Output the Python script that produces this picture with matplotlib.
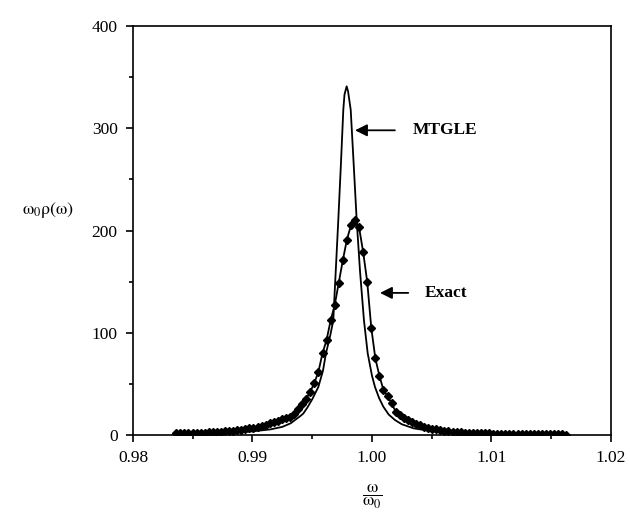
import matplotlib
matplotlib.use("Agg")
import matplotlib.pyplot as plt
from matplotlib.ticker import MultipleLocator

plt.rcParams['font.family'] = ['Liberation Serif', 'DejaVu Serif']
plt.rcParams['mathtext.fontset'] = 'stix'

# exact spectral density, sampled points
exact_w = [0.98362, 0.98396, 0.98430, 0.98464, 0.98498, 0.98532, 0.98566, 0.98600,
           0.98634, 0.98668, 0.98702, 0.98736, 0.98770, 0.98804, 0.98838, 0.98872,
           0.98906, 0.98940, 0.98974, 0.99008, 0.99042, 0.99076, 0.99110, 0.99144,
           0.99178, 0.99212, 0.99246, 0.99280, 0.99314, 0.99348, 0.99382, 0.99416,
           0.99450, 0.99484, 0.99518, 0.99552, 0.99586, 0.99620, 0.99654, 0.99688,
           0.99722, 0.99756, 0.99790, 0.99824, 0.99858, 0.99892, 0.99926, 0.99960,
           0.99994, 1.00028, 1.00062, 1.00096, 1.00130, 1.00164, 1.00198, 1.00232,
           1.00266, 1.00300, 1.00334, 1.00368, 1.00402, 1.00436, 1.00470, 1.00504,
           1.00538, 1.00572, 1.00606, 1.00640, 1.00674, 1.00708, 1.00742, 1.00776,
           1.00810, 1.00844, 1.00878, 1.00912, 1.00946, 1.00980, 1.01014, 1.01048,
           1.01082, 1.01116, 1.01150, 1.01184, 1.01218, 1.01252, 1.01286, 1.01320,
           1.01354, 1.01388, 1.01422, 1.01456, 1.01490, 1.01524, 1.01558, 1.01592,
           1.01626]
exact_rho = [1.5, 1.6, 1.7, 1.8, 1.9, 2.0, 2.1, 2.3,
             2.5, 2.7, 2.9, 3.2, 3.5, 3.8, 4.2, 4.6,
             5.1, 5.7, 6.4, 7.2, 8.1, 9.1, 10.2, 11.4,
             12.7, 14.0, 15.3, 16.5, 17.5, 20.5, 25.0, 30.0,
             35.5, 42.5, 51.0, 62.0, 80.0, 93.0, 112.0, 127.0,
             149.0, 171.0, 191.0, 205.0, 210.0, 203.0, 179.0, 150.0,
             105.0, 75.0, 58.0, 44.0, 38.0, 31.0, 23.0, 19.5,
             17.0, 14.8, 12.6, 11.0, 9.6, 8.3, 7.2, 6.2,
             5.5, 4.9, 4.3, 3.8, 3.4, 3.0, 2.7, 2.4,
             2.2, 2.0, 1.9, 1.7, 1.6, 1.5, 1.4, 1.3,
             1.2, 1.1, 1.0, 1.0, 1.0, 0.9, 0.9, 0.8,
             0.8, 0.8, 0.7, 0.7, 0.7, 0.6, 0.6, 0.6,
             0.5]

# MTGLE approximation
mtgle_w = [0.98362, 0.9860, 0.9880, 0.9900, 0.9915, 0.9925, 0.9932, 0.99356,
           0.9940, 0.99425, 0.9946, 0.9950, 0.99551, 0.9959, 0.99615, 0.9965,
           0.99676, 0.9970, 0.99718, 0.9974, 0.9976, 0.9977, 0.99788, 0.9980,
           0.99822, 0.9985, 0.99872, 0.9990, 0.99933, 0.99964, 1.0000, 1.00025,
           1.0006, 1.00095, 1.0014, 1.00192, 1.0025, 1.0035, 1.0050, 1.0070,
           1.0100, 1.0130, 1.01626]
mtgle_rho = [1.0, 1.5, 2.2, 3.6, 5.5, 8.0, 11.5, 14.7,
             18.5, 21.0, 27.0, 35.0, 47.0, 63.0, 80.0, 97.0,
             112.0, 168.0, 210.0, 265.0, 318.0, 333.0, 341.0, 336.0,
             318.0, 258.0, 210.0, 160.0, 112.0, 80.0, 58.0, 47.0,
             36.0, 27.7, 20.0, 14.7, 10.5, 6.5, 3.8, 2.2,
             1.3, 0.9, 0.7]

fig = plt.figure(figsize=(6.3, 5.15), dpi=100)
ax = fig.add_axes([0.2111, 0.1553, 0.7587, 0.7942])

ax.plot(mtgle_w, mtgle_rho, color='black', lw=1.3)
ax.plot(exact_w, exact_rho, color='black', lw=1.3, marker='D', ms=4)

ax.set_xlim(0.98, 1.02)
ax.set_ylim(0, 400)
ax.xaxis.set_major_locator(MultipleLocator(0.01))
ax.xaxis.set_minor_locator(MultipleLocator(0.005))
ax.yaxis.set_major_locator(MultipleLocator(100))
ax.yaxis.set_minor_locator(MultipleLocator(50))
ax.xaxis.set_major_formatter(plt.FuncFormatter(lambda v, p: f"{v:.2f}"))
ax.tick_params(which='major', direction='out', length=5, width=1.2, labelsize=12.5, pad=6)
ax.tick_params(which='minor', direction='out', length=3, width=1.2)
for s in ax.spines.values():
    s.set_linewidth(1.2)

ax.annotate('MTGLE', xy=(0.99858, 298), xytext=(1.00343, 298),
            fontsize=12.5, fontweight='bold', va='center',
            arrowprops=dict(arrowstyle='-|>', color='black', lw=1.3,
                            mutation_scale=18, shrinkA=11, shrinkB=0))
ax.annotate('Exact', xy=(1.00067, 139), xytext=(1.00443, 139),
            fontsize=12.5, fontweight='bold', va='center',
            arrowprops=dict(arrowstyle='-|>', color='black', lw=1.3,
                            mutation_scale=18, shrinkA=10, shrinkB=0))

fig.text(22 / 630, 1 - 210 / 515, r'$\mathrm{\omega_0\rho(\omega)}$', fontsize=13, va='center')
fig.text(372 / 630, 1 - 497 / 515, r'$\dfrac{\mathrm{\omega}}{\mathrm{\omega_0}}$', fontsize=13,
         ha='center', va='center')

fig.savefig('out.png', dpi=100)
